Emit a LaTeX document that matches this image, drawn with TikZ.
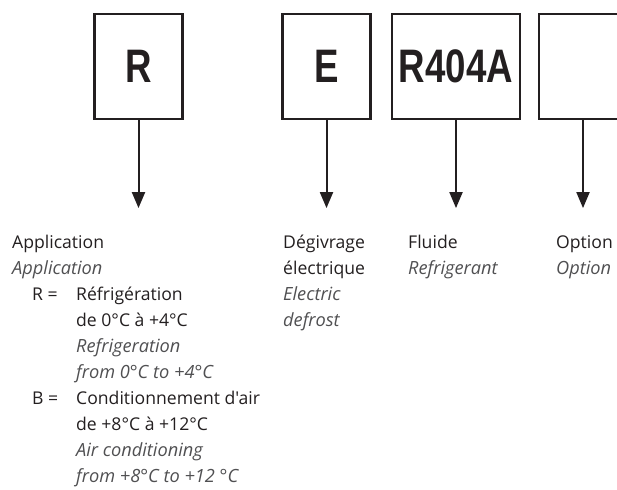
\documentclass[tikz,border=0pt]{standalone}
\usepackage{fontspec}
\usepackage{graphicx}
\usetikzlibrary{arrows.meta,positioning}
\newfontfamily\txtfont{Open Sans}
\newfontfamily\codefont{Liberation Sans}
\definecolor{inkblack}{RGB}{35,31,32}
\definecolor{engrey}{RGB}{80,80,82}
\newcommand{\code}[1]{\scalebox{0.78}[1]{\codefont\bfseries #1}}

\begin{document}
\begin{tikzpicture}[x=1pt, y=-1pt, >={Triangle[length=16pt,width=13pt]},
  codebox/.style={draw=inkblack, line width=2.2pt, minimum width=88pt, minimum height=105pt, inner sep=0pt, text=inkblack, font=\fontsize{47}{47}\selectfont},
  fr/.style={anchor=base west, inner sep=0pt, align=left, text=inkblack, font=\txtfont\fontsize{17.6}{26}\selectfont},
  en/.style={fr, text=engrey, font=\txtfont\itshape\fontsize{18.2}{26}\selectfont},
  pointer/.style={->, draw=inkblack, line width=2pt}]
  \useasboundingbox (0,0) rectangle (617,489);

  % code boxes
  \node[codebox] (appbox) at (138.5,66.5) {\code{R}};
  \node[codebox] (defbox) at (326.5,66.5) {\code{E}};
  \node[codebox, minimum width=128pt] (refbox) at (456,66.5) {\code{R404A}};
  \node[codebox] (optbox) at (583,66.5) {};

  % arrow ends
  \coordinate (apptip) at ([yshift=-88pt]appbox.south);
  \coordinate (deftip) at ([yshift=-88pt]defbox.south);
  \coordinate (reftip) at ([yshift=-88pt]refbox.south);
  \coordinate (opttip) at ([yshift=-88pt]optbox.south);

  \draw[pointer] (appbox.south) -- (apptip);
  \draw[pointer] (defbox.south) -- (deftip);
  \draw[pointer] (refbox.south) -- (reftip);
  \draw[pointer] (optbox.south) -- (opttip);

  % application (multi-line nodes sit on their last baseline)
  \node[fr] (appfr) at (12,248) {Application};
  \node[en] (appen) at (12,274) {Application};
  \node[fr] (rkey) at (32,300) {R =};
  \node[fr] (rfr) at (76,326) {Réfrigération\\de 0°C à +4°C};
  \node[en] (ren) at (76,378) {Refrigeration\\from 0°C to +4°C};
  \node[fr] (bkey) at (32,404) {B =};
  \node[fr] (bfr) at (76,430) {Conditionnement d'air\\de +8°C à +12°C};
  \node[en] (ben) at (76,482) {Air conditioning\\from +8°C to +12 °C};

  % defrost, refrigerant, option
  \node[fr] (deffr) at (283,274) {Dégivrage\\électrique};
  \node[en] (defen) at (283,326) {Electric\\defrost};
  \node[fr] (reffr) at (408,248) {Fluide};
  \node[en] (refen) at (408,274) {Refrigerant};
  \node[fr] (optfr) at (556,248) {Option};
  \node[en] (opten) at (556,274) {Option};
\end{tikzpicture}
\end{document}
